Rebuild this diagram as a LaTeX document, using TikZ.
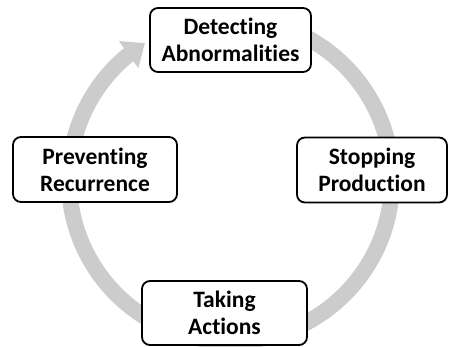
\documentclass[tikz,border=0pt]{standalone}
\usepackage{fontspec}
\setmainfont{Carlito}[Ligatures=NoCommon]
\usetikzlibrary{arrows.meta,bending}
\definecolor{ringgray}{HTML}{CCCCCC}
\tikzset{
  stepbox/.style={draw=black, line width=1.8pt, rounded corners=8pt, fill=white,
    align=center, font=\fontsize{23.5}{27}\selectfont\bfseries, inner sep=0pt},
  ring/.style={line width=16pt, draw=ringgray, -{Triangle[width=32pt,length=20pt,flex]}}
}
\begin{document}
\begin{tikzpicture}[x=1pt,y=1pt]
\useasboundingbox (0,0) rectangle (454,347);
\coordinate (c) at (230.5,167);
\draw[ring] ([shift={(90:161.5)}]c) arc[start angle=90, end angle=-238, radius=161.5];
\node[stepbox, minimum width=161pt, minimum height=64pt] (detect) at (230.5,307) {Detecting\\Abnormalities};
\node[stepbox, minimum width=164pt, minimum height=65pt] (prevent) at (95,177.5) {Preventing\\Recurrence};
\node[stepbox, minimum width=150pt, minimum height=65pt] (stop) at (372,177) {Stopping\\Production};
\node[stepbox, minimum width=165pt, minimum height=64pt] (act) at (224.5,34) {Taking\\Actions};
\end{tikzpicture}
\end{document}
